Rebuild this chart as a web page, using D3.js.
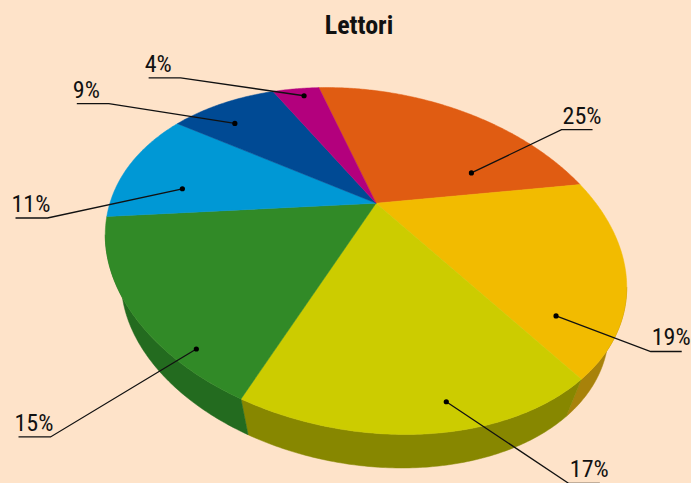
<!DOCTYPE html>
<html>
<head>
<meta charset="utf-8">
<script src="https://cdn.jsdelivr.net/npm/d3@7"></script>
<style>
  body { margin: 0; background: #fee3c9; }
  text { font-family: "Liberation Sans Narrow", "Roboto Condensed", "DejaVu Sans Condensed", sans-serif; fill: #111; }
</style>
</head>
<body>
<script>
const title = 'Lettori'
const values = [25, 19, 17, 15, 11, 9, 4]
const labels = ['25%', '19%', '17%', '15%', '11%', '9%', '4%']
const topColors = ['#e05c12', '#f2bb00', '#cccc00', '#318a27', '#0098d5', '#004a94', '#b3007d']
const sideColors = ['#9c400d', '#a8820a', '#878700', '#236b1f', '#006a96', '#003468', '#7d0058']

// where the label dot sits inside its slice (share of the slice, share of the radius)
const dotAt = [0.815, 0.846, 0.437, 0.227, 0.282, 0.344, 0.575]
const dotR = [0.53, 0.81, 0.91, 0.94, 0.76, 0.82, 0.92]
// where the leader line bends (shift in percent, share of the radius)
const bendShift = [-1.3, -1.4, -3.3, 0.8, -3.0, -3.7, -7.0]
const bendR = [1.29, 1.115, 1.21, 1.34, 1.19, 1.35, 1.33]

const width = 691
const height = 483

// pie seen in perspective: ellipse of the rim, tilt of the ellipse, pull of the centre
const cx = 366, cy = 261, rx = 263, ry = 170
const tilt = 9.9 * Math.PI / 180
const k = 0.345
const start = -114 * Math.PI / 180
// the bottom rim: the top rim shrunk towards a vanishing point far below
const vanish = [350, 950]
const shrink = 0.935

const svg = d3.select('body').append('svg')
    .attr('width', width)
    .attr('height', height)
    .style('display', 'block')
    .style('background-color', '#fee3c9')

function proj(a, rad) {
    const x = rad * Math.cos(a), y = rad * Math.sin(a)
    const den = 1 - k * y
    const u = x * Math.sqrt(1 - k * k) / den * rx
    const v = (y - k) / den * ry
    return [cx + u * Math.cos(tilt) - v * Math.sin(tilt),
            cy + u * Math.sin(tilt) + v * Math.cos(tilt)]
}

function lower(p) {
    return [vanish[0] + shrink * (p[0] - vanish[0]), vanish[1] + shrink * (p[1] - vanish[1])]
}

const angle = d3.scaleLinear()
    .domain([0, d3.sum(values)])
    .range([start, start + 2 * Math.PI])

const cum = [0]
values.forEach(v => cum.push(cum[cum.length - 1] + v))

function arcPoints(a1, a2) {
    const n = Math.max(2, Math.ceil((a2 - a1) / 0.01))
    return d3.range(n + 1).map(i => proj(a1 + (a2 - a1) * i / n, 1))
}

// the part of the rim whose wall faces us (between the right and the left extremes)
const probe = d3.range(0, 3600).map(i => start + 2 * Math.PI * i / 3600)
const aRight = probe[d3.maxIndex(probe, a => proj(a, 1)[0])]
const aLeft = probe[d3.minIndex(probe, a => proj(a, 1)[0])]

const line = d3.line()
const apex = proj(0, 0)

const sides = svg.append('g')
values.forEach((v, i) => {
    const s1 = Math.max(angle(cum[i]), aRight)
    const s2 = Math.min(angle(cum[i + 1]), aLeft)
    if (s2 <= s1) return
    const upper = arcPoints(s1, s2)
    const bottom = upper.map(lower).reverse()
    sides.append('path')
        .attr('d', line(upper.concat(bottom)) + 'Z')
        .style('fill', sideColors[i])
        .style('stroke', sideColors[i])
        .style('stroke-width', 0.5)
})

const tops = svg.append('g')
values.forEach((v, i) => {
    const pts = [apex].concat(arcPoints(angle(cum[i]), angle(cum[i + 1])))
    tops.append('path')
        .attr('d', line(pts) + 'Z')
        .style('fill', topColors[i])
        .style('stroke', topColors[i])
        .style('stroke-width', 0.5)
})

// labels
const lab = svg.append('g')
values.forEach((v, i) => {
    const at = cum[i] + dotAt[i] * v
    const dot = proj(angle(at), dotR[i])
    const bend = proj(angle(at + bendShift[i]), bendR[i])
    const right = bend[0] > apex[0]
    const end = [bend[0] + (right ? 31 : -32), bend[1]]

    lab.append('path')
        .attr('d', line([dot, bend, end]))
        .style('fill', 'none')
        .style('stroke', '#111')
        .style('stroke-width', 1.3)

    lab.append('circle')
        .attr('cx', dot[0])
        .attr('cy', dot[1])
        .attr('r', 2.6)
        .style('fill', '#000')

    lab.append('text')
        .attr('x', right ? bend[0] + 1 : end[0] - 4)
        .attr('y', bend[1] - 6)
        .style('font-size', '24px')
        .text(labels[i])
})

svg.append('text')
    .attr('x', 359)
    .attr('y', 34)
    .attr('text-anchor', 'middle')
    .style('font-size', '26px')
    .style('font-weight', 'bold')
    .text(title)
</script>
</body>
</html>
